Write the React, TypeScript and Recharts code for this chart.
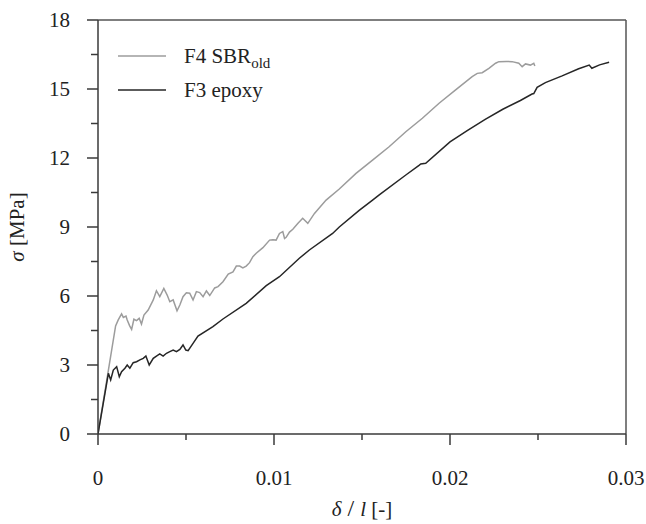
import React from "react";
import {
  LineChart,
  Line,
  XAxis,
  YAxis,
  ReferenceLine,
  Legend,
} from "recharts";

// F4 SBR_old (light grey)
const sbrStrain = [
  0, 0.001, 0.00115, 0.00134, 0.00144, 0.00159, 0.00166, 0.0018, 0.00191,
  0.00204, 0.00219, 0.00234, 0.00247, 0.00261, 0.00285, 0.00314, 0.00332,
  0.00351, 0.00374, 0.00393, 0.00408, 0.00427, 0.00449, 0.00465, 0.00483,
  0.00502, 0.00521, 0.0054, 0.00559, 0.00578, 0.00597, 0.00616, 0.00635,
  0.00663, 0.00682, 0.0071, 0.0074, 0.00767, 0.00786, 0.00805, 0.00823,
  0.00842, 0.00861, 0.0088, 0.00899, 0.00937, 0.00975, 0.00993, 0.01012,
  0.01031, 0.0105, 0.0106, 0.01069, 0.01088, 0.01107, 0.01135, 0.01163,
  0.01192, 0.0123, 0.01296, 0.01371, 0.01466, 0.0156, 0.01654, 0.01749,
  0.01843, 0.01938, 0.02032, 0.02126, 0.02155, 0.02183, 0.02221, 0.02259,
  0.02278, 0.0232, 0.02353, 0.02391, 0.0241, 0.02429, 0.02457, 0.02476,
  0.02482,
];
const sbrStress = [
  0, 4.7, 4.96, 5.22, 5.07, 5.13, 4.96, 4.7, 4.55, 4.99, 4.93, 5.03, 4.78,
  5.17, 5.39, 5.83, 6.23, 5.97, 6.33, 6.04, 5.75, 5.83, 5.36, 5.61, 5.97,
  6.14, 6.12, 5.83, 6.19, 6.15, 5.97, 6.22, 6.02, 6.35, 6.41, 6.62, 6.95,
  7.05, 7.3, 7.3, 7.22, 7.3, 7.45, 7.71, 7.86, 8.1, 8.43, 8.45, 8.43, 8.72,
  8.8, 8.5, 8.55, 8.78, 8.9, 9.15, 9.38, 9.16, 9.59, 10.17, 10.65, 11.33,
  11.91, 12.49, 13.14, 13.73, 14.38, 14.96, 15.54, 15.68, 15.71, 15.9, 16.12,
  16.19, 16.2, 16.19, 16.12, 15.97, 16.09, 16.04, 16.12, 16.0,
];

// F3 epoxy (dark)
const epoxyStrain = [
  0, 0.00059, 0.00072, 0.00087, 0.00106, 0.00121, 0.00134, 0.00153, 0.00166,
  0.00181, 0.002, 0.00219, 0.00238, 0.00257, 0.00272, 0.00291, 0.00314,
  0.00332, 0.00351, 0.0037, 0.00389, 0.00408, 0.00427, 0.00446, 0.00465,
  0.00483, 0.00499, 0.00512, 0.0054, 0.00568, 0.00653, 0.0071, 0.00842,
  0.00956, 0.01031, 0.01144, 0.01201, 0.01333, 0.01371, 0.01484, 0.0156,
  0.01598, 0.01749, 0.01824, 0.01834, 0.01862, 0.02, 0.021, 0.022, 0.023,
  0.024, 0.02466, 0.02476, 0.02495, 0.02542, 0.02637, 0.02731, 0.02791,
  0.02806, 0.0285, 0.02904,
];
const epoxyStress = [
  0, 2.64, 2.35, 2.78, 2.93, 2.49, 2.71, 2.86, 3.0, 2.86, 3.1, 3.14, 3.22,
  3.29, 3.39, 3.0, 3.29, 3.39, 3.48, 3.39, 3.51, 3.58, 3.65, 3.58, 3.68, 3.87,
  3.65, 3.62, 3.94, 4.26, 4.67, 5.0, 5.68, 6.45, 6.84, 7.64, 8.0, 8.72, 9.0,
  9.72, 10.17, 10.4, 11.26, 11.68, 11.74, 11.77, 12.7, 13.2, 13.68, 14.12,
  14.5, 14.78, 14.8, 15.07, 15.28, 15.57, 15.88, 16.04, 15.9, 16.05, 16.16,
];

const xTicks = [0, 0.005, 0.01, 0.015, 0.02, 0.025, 0.03];
const yTicks = [0, 1.5, 3, 4.5, 6, 7.5, 9, 10.5, 12, 13.5, 15, 16.5, 18];

const sbrData = sbrStrain.map((x, i) => ({ x, y: sbrStress[i] }));
const epoxyData = epoxyStrain.map((x, i) => ({ x, y: epoxyStress[i] }));

const FONT = "'Liberation Serif', 'Times New Roman', serif";
const AXIS = "#3a3a3a";
const GREY = "#9c9c9c";
const DARK = "#262626";

const YTick = ({ x, y, payload }: any) => {
  const major = Math.round(payload.value * 10) % 30 === 0;
  return (
    <g>
      <line x1={x - (major ? 11 : 7)} x2={x} y1={y} y2={y} stroke={AXIS} strokeWidth={1.5} />
      {major && (
        <text
          x={x - 28}
          y={y}
          textAnchor="end"
          dominantBaseline="central"
          fontFamily={FONT}
          fontSize={21}
          fill="#222"
        >
          {payload.value}
        </text>
      )}
    </g>
  );
};

const XTick = ({ x, y, payload }: any) => {
  const major = Math.round(payload.value * 1000) % 10 === 0;
  return (
    <g>
      <line x1={x} x2={x} y1={y} y2={y + (major ? 11 : 6)} stroke={AXIS} strokeWidth={1.5} />
      {major && (
        <text
          x={x}
          y={y + 51}
          textAnchor="middle"
          fontFamily={FONT}
          fontSize={21}
          fill="#222"
        >
          {payload.value === 0 ? "0" : payload.value.toFixed(2)}
        </text>
      )}
    </g>
  );
};

const renderLegend = () => (
  <svg width={220} height={70}>
    <line x1={8} x2={56} y1={18} y2={18} stroke={GREY} strokeWidth={1.5} />
    <text x={74} y={25} fontFamily={FONT} fontSize={21} fill="#222">
      F4 SBR
      <tspan dy={5} fontSize={15}>old</tspan>
    </text>
    <line x1={8} x2={56} y1={52} y2={52} stroke={DARK} strokeWidth={1.5} />
    <text x={74} y={59} fontFamily={FONT} fontSize={21} fill="#222">
      F3 epoxy
    </text>
  </svg>
);

export default function App() {
  return (
    <div style={{ position: "absolute", left: 0, top: 0, background: "#fff" }}>
      <LineChart
        width={646}
        height={524}
        margin={{ top: 20, right: 20, left: 0, bottom: 0 }}
      >
        <XAxis
          dataKey="x"
          type="number"
          domain={[0, 0.03]}
          ticks={xTicks}
          interval={0}
          height={90}
          tickSize={0}
          tickMargin={0}
          tickLine={false}
          axisLine={{ stroke: AXIS, strokeWidth: 1.5 }}
          tick={<XTick />}
          allowDataOverflow
          label={{
            content: ({ viewBox }: any) => (
              <text
                x={viewBox.x + viewBox.width / 2}
                y={viewBox.y + 82}
                textAnchor="middle"
                fontFamily={FONT}
                fontSize={21}
                fill="#222"
              >
                <tspan fontStyle="italic">δ</tspan>
                <tspan fontSize={24}> / </tspan>
                <tspan fontStyle="italic">l</tspan>
                <tspan> [-]</tspan>
              </text>
            ),
          }}
        />
        <YAxis
          type="number"
          domain={[0, 18]}
          ticks={yTicks}
          interval={0}
          width={98}
          tickSize={0}
          tickMargin={0}
          tickLine={false}
          axisLine={{ stroke: AXIS, strokeWidth: 1.5 }}
          tick={<YTick />}
          allowDataOverflow
          label={{
            content: ({ viewBox }: any) => {
              const cx = 24;
              const cy = viewBox.y + viewBox.height / 2;
              return (
                <text
                  x={cx}
                  y={cy}
                  transform={`rotate(-90, ${cx}, ${cy})`}
                  textAnchor="middle"
                  fontFamily={FONT}
                  fontSize={21}
                  fill="#222"
                >
                  <tspan fontStyle="italic">σ</tspan>
                  <tspan> [MPa]</tspan>
                </text>
              );
            },
          }}
        />
        <ReferenceLine y={18} stroke="#555" strokeWidth={1.5} />
        <ReferenceLine x={0.03} stroke="#555" strokeWidth={1.5} />
        <Line
          data={sbrData}
          dataKey="y"
          stroke={GREY}
          strokeWidth={1.5}
          dot={false}
          activeDot={false}
          type="linear"
          isAnimationActive={false}
        />
        <Line
          data={epoxyData}
          dataKey="y"
          stroke={DARK}
          strokeWidth={1.5}
          dot={false}
          activeDot={false}
          type="linear"
          isAnimationActive={false}
        />
        <Legend
          layout="horizontal"
          verticalAlign="middle"
          align="center"
          content={renderLegend}
          wrapperStyle={{ position: "absolute", left: 110, top: 38, width: 220, height: 70 }}
        />
      </LineChart>
    </div>
  );
}
